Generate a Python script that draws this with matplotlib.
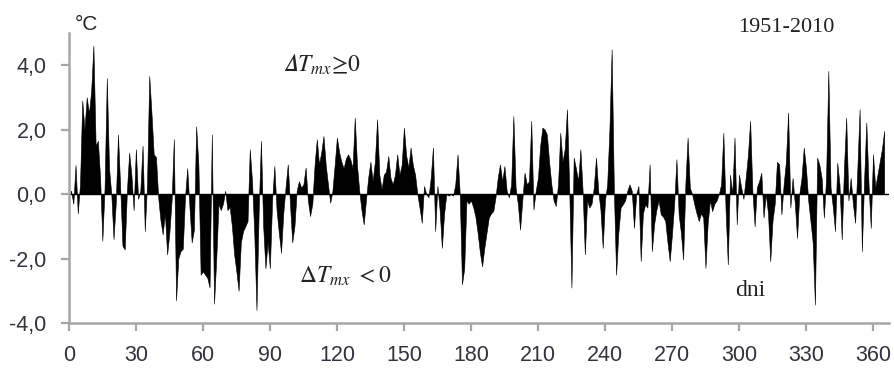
import numpy as np
import matplotlib.pyplot as plt

# Odchylenia dobowe temperatury maksymalnej, dni 1-365 (1951-2010)
dni = np.arange(1, 366)
dT_mx = [
    0.1, -0.3, 0.9, -0.6, 0.3, 2.9, 2.0, 3.0, 2.5, 3.2,
    4.6, 1.5, 1.65, 0.5, -1.45, 0.2, 3.6, 0.8, 0.0, -1.4,
    -0.3, 1.85, 0.2, -1.6, -1.72, 0.1, 1.28, 0.6, -0.5, 1.39,
    -0.15, 0.1, 1.5, -1.15, 0.3, 3.66, 2.5, 1.23, 1.15, -0.1,
    -0.8, -1.25, -0.6, -1.87, -1.2, -0.2, 1.7, -3.3, -2.0, -1.77,
    -1.7, -0.1, 0.8, -0.4, -1.5, -1.1, 2.1, 0.9, -2.5, -2.4,
    -2.5, -2.6, -2.9, 1.85, -3.4, -2.0, -0.3, -0.5, -0.3, 0.1,
    -0.5, -0.4, -1.0, -1.87, -2.4, -3.0, -1.5, -1.15, -1.0, -0.84,
    1.39, 0.4, -1.2, -3.6, -0.5, 1.65, -1.0, -2.3, -1.5, -2.3,
    -0.2, 0.87, -0.5, -1.2, -1.82, -0.6, 0.2, 0.92, -0.3, -1.5,
    -1.0, 0.1, 0.4, 0.2, 0.3, 0.82, -0.2, -0.68, -0.3, 0.9,
    1.7, 0.92, 1.3, 1.8, 0.9, 0.3, -0.27, 0.1, 0.9, 1.75,
    1.3, 1.0, 0.8, 1.1, 1.23, 1.08, 0.8, 2.37, 0.9, 0.1,
    -0.5, -0.94, -0.2, 0.5, 1.0, 0.4, 1.0, 2.32, 0.6, 0.15,
    0.6, 0.7, 1.18, 0.5, 0.3, 0.6, 1.23, 0.6, 0.9, 2.06,
    1.2, 0.82, 1.44, 0.9, 0.6, 0.0, -0.42, -0.89, 0.25, 0.0,
    -0.1, 0.5, 1.44, -1.15, 0.25, -0.5, -1.67, -0.6, 0.0, -0.05,
    0.0, -0.05, 0.3, 1.23, 0.0, -2.8, -2.3, -0.2, -0.3, -0.2,
    -0.4, -0.7, -1.2, -1.8, -2.24, -1.67, -1.2, -0.73, -0.6, -0.53,
    -0.1, 0.5, 0.92, 0.4, 0.87, 0.1, -0.1, 0.3, 2.42, 0.2,
    -0.3, -1.1, -0.2, 0.66, 0.3, 0.4, 2.27, -0.48, 0.1, 0.5,
    1.5, 2.06, 2.0, 1.85, 1.0, 0.3, -0.2, -0.37, 0.3, 1.9,
    1.0, 1.4, 2.63, 0.2, -2.9, 1.13, 0.8, 0.4, 1.39, 0.1,
    -1.87, -0.2, -0.42, -0.3, 0.2, 1.13, 0.1, -0.5, -1.67, -0.2,
    0.3, 2.0, 4.49, 0.1, -2.5, -1.2, -0.42, -0.32, -0.2, 0.1,
    0.3, 0.1, -1.05, 0.0, 0.25, -2.08, -0.6, -0.32, -0.42, 0.92,
    -1.77, -0.94, -0.5, -0.2, -0.63, -0.7, -0.84, -1.5, -2.08, -1.25,
    -0.3, 1.08, -0.63, -1.2, -2.03, 0.3, 1.75, 0.2, 0.0, -0.32,
    -0.6, -0.84, -0.6, -0.73, -2.29, -0.9, -0.2, -0.53, -0.3, -0.2,
    0.0, 0.3, 1.9, -0.5, -2.18, 0.6, 0.0, 1.75, -0.94, 0.6,
    0.2, -0.15, 0.5, 1.2, 2.27, 0.1, -1.0, 0.2, 0.4, 0.66,
    -0.73, 0.0, -0.6, -2.08, -0.84, -0.3, 1.0, 0.92, -0.63, 0.3,
    1.0, 2.53, -0.42, 0.5, -0.3, -1.36, 0.0, 0.5, 1.44, 0.8,
    -0.2, -0.84, -1.5, -3.43, 1.13, 0.9, 0.5, -0.73, 0.5, 3.82,
    0.2, -0.4, -1.15, 0.97, 0.3, -1.41, 0.8, 2.37, -0.2, 0.5,
    -0.3, -0.89, 0.8, 2.63, -1.77, 0.4, 2.22, 0.3, -1.05, 1.23,
    0.2, 0.6, 1.0, 1.4, 1.96,
]

x_ticks = [0, 30, 60, 90, 120, 150, 180, 210, 240, 270, 300, 330, 360]
y_ticks = [-4, -2, 0, 2, 4]
y_labels = ['-4,0', '-2,0', '0,0', '2,0', '4,0']

plt.rcParams['mathtext.fontset'] = 'stix'

fig = plt.figure(figsize=(8.94, 3.73), dpi=100)
ax = fig.add_axes([0.077, 0.134, 0.917, 0.778])

ax.fill_between(dni, dT_mx, 0, color='black', linewidth=0.4)
ax.axhline(0, color='black', linewidth=1.0)

ax.set_xlim(0, 367)
ax.set_ylim(-4, 5)
ax.set_xticks(x_ticks)
ax.set_yticks(y_ticks)
ax.set_yticklabels(y_labels)

for side in ['top', 'right']:
    ax.spines[side].set_visible(False)
for side in ['left', 'bottom']:
    ax.spines[side].set_color('#a6a6a6')
    ax.spines[side].set_linewidth(1.8)

ax.tick_params(axis='both', direction='out', length=6, width=1.6, color='#a6a6a6',
               labelsize=15.5, labelcolor='#333340')
ax.tick_params(axis='y', pad=10)
ax.tick_params(axis='x', pad=10)
for lab in ax.get_xticklabels() + ax.get_yticklabels():
    lab.set_fontfamily('Liberation Sans')

# opisy
ax.text(8, 5.25, '°C', fontsize=15, family='Liberation Sans', color='#222222',
        ha='center', va='center', clip_on=False)
ax.text(321, 5.15, '1951-2010', fontsize=16, family='Liberation Serif', color='#222222',
        ha='center', va='center', clip_on=False)
# pierwszy opis ma pochyloną deltę
ax.text(96, 4.02, '$\U0001D6E5T_{mx}\\!\\geq\\! 0$', fontsize=17, color='#222222',
        ha='left', va='center')
ax.text(103, -2.55, r'$\Delta T_{mx}\ <0$', fontsize=17, color='#222222',
        ha='left', va='center')
ax.text(305, -3.0, 'dni', fontsize=17, family='Liberation Serif', color='#222222',
        ha='center', va='center')

fig.savefig('out.png', dpi=100)
